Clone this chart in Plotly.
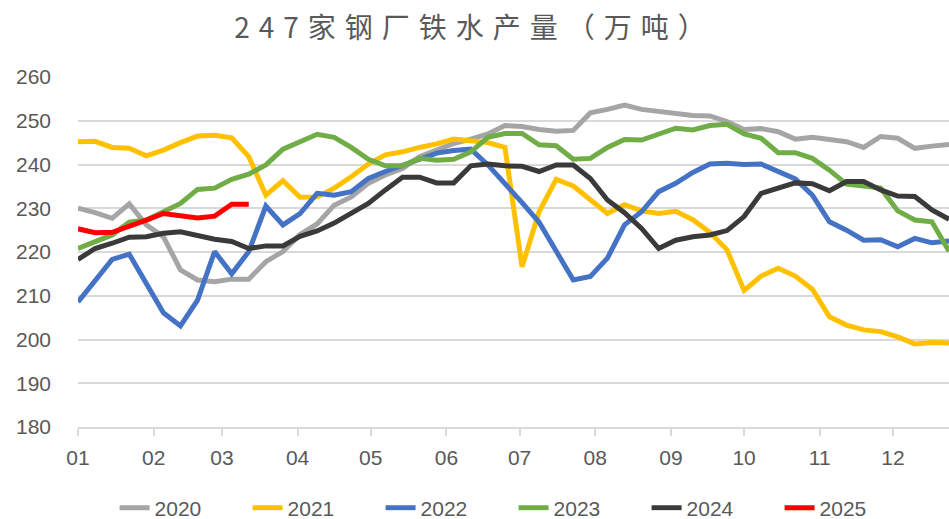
import pandas as pd
import plotly.graph_objects as go

# Weekly hot-metal output of 247 steel mills (10k tonnes), one row per year
years = ["2020", "2021", "2022", "2023", "2024", "2025"]
colors = ["#A5A5A5", "#FFC000", "#4472C4", "#70AD47", "#3A3A3A", "#FF0000"]

v2020 = [230.0, 229.0, 227.7, 231.0, 226.2, 223.5, 215.9, 213.6, 213.2, 213.8,
         213.8, 217.8, 220.1, 224.0, 226.4, 230.7, 232.6, 235.7, 237.6, 239.1,
         241.8, 243.3, 244.8, 245.8, 247.0, 248.9, 248.7, 248.0, 247.6, 247.8,
         251.8, 252.6, 253.6, 252.6, 252.1, 251.7, 251.2, 251.1, 249.8, 248.0,
         248.2, 247.5, 245.8, 246.2, 245.8, 245.2, 243.9, 246.4, 246.0, 243.7,
         244.2, 244.6]
v2021 = [245.2, 245.3, 243.9, 243.7, 242.0, 243.3, 245.0, 246.5, 246.7, 246.1,
         241.8, 233.0, 236.3, 232.5, 232.6, 234.6, 237.2, 240.1, 242.2, 242.9,
         243.9, 244.7, 245.8, 245.4, 245.0, 243.9, 216.6, 229.2, 236.6, 235.1,
         231.9, 228.8, 230.8, 229.4, 228.8, 229.3, 227.4, 224.5, 220.5, 211.2,
         214.5, 216.3, 214.5, 211.5, 205.2, 203.3, 202.2, 201.8, 200.6, 199.0,
         199.3, 199.2]
v2022 = [208.6, 213.6, 218.3, 219.5, 212.8, 206.1, 203.1, 209.0, 220.1, 215.0,
         220.1, 230.5, 226.2, 228.8, 233.4, 233.0, 233.8, 236.8, 238.4, 239.7,
         241.0, 242.6, 243.2, 243.5, 239.9, 235.7, 231.3, 226.8, 220.3, 213.6,
         214.4, 218.6, 226.2, 229.2, 233.8, 235.7, 238.2, 240.1, 240.3, 240.0,
         240.1, 238.4, 236.7, 233.0, 226.9, 225.0, 222.7, 222.8, 221.2, 223.1,
         222.1, 222.5]
v2023 = [220.8, 222.4, 223.9, 226.8, 227.3, 229.2, 231.1, 234.3, 234.6, 236.6,
         237.8, 239.9, 243.5, 245.2, 246.9, 246.2, 243.9, 241.2, 239.7, 239.7,
         241.4, 241.0, 241.2, 242.9, 246.2, 247.1, 247.1, 244.5, 244.3, 241.2,
         241.4, 243.9, 245.7, 245.6, 247.0, 248.3, 247.9, 248.9, 249.2, 247.0,
         246.0, 242.7, 242.7, 241.4, 238.7, 235.5, 235.1, 234.6, 229.4, 227.3,
         226.9, 220.2]
v2024 = [218.3, 220.8, 222.0, 223.4, 223.5, 224.3, 224.6, 223.7, 222.9, 222.4,
         220.8, 221.4, 221.4, 223.6, 224.8, 226.6, 229.0, 231.1, 234.2, 237.1,
         237.1, 235.8, 235.8, 239.7, 240.1, 239.7, 239.6, 238.4, 239.9, 239.9,
         236.8, 231.9, 229.0, 225.4, 220.8, 222.7, 223.5, 223.9, 224.9, 228.1,
         233.4, 234.6, 235.8, 235.6, 234.0, 236.1, 236.1, 234.2, 232.8, 232.7,
         229.6, 227.5]
v2025 = [225.3, 224.4, 224.5, 225.8, 227.3, 228.8, 228.4, 227.8, 228.2, 230.9,
         230.9]

series = [v2020, v2021, v2022, v2023, v2024, v2025]

month_labels = ["01", "02", "03", "04", "05", "06",
                "07", "08", "09", "10", "11", "12"]

# All years are drawn on one shared Jan-Dec calendar, one point per week
base_year = 2001
month_starts = pd.date_range(f"{base_year}-01-01", periods=12, freq="MS")

fig = go.Figure()
for name, vals, col in zip(years, series, colors):
    weeks = pd.date_range(f"{base_year}-01-01", periods=len(vals), freq="7D")
    fig.add_trace(go.Scatter(
        x=weeks, y=vals, name=name, mode="lines",
        line=dict(color=col, width=5),
    ))

text_color = "#595959"
grid_color = "#D9D9D9"
tick_font = dict(family="Liberation Sans, Arial, sans-serif", size=21, color=text_color)

fig.update_layout(
    width=949, height=519,
    margin=dict(l=78, r=0, t=77, b=92, autoexpand=False),
    paper_bgcolor="white", plot_bgcolor="white",
    title=dict(
        text='<span style="letter-spacing:9px">247家钢厂铁水产量（万吨）</span>',
        font=dict(family="Noto Sans CJK SC", size=28, color=text_color),
        x=0.5, xanchor="center", xref="container",
        y=1 - 28 / 519, yanchor="middle", yref="container",
    ),
    xaxis=dict(
        range=[f"{base_year}-01-01", f"{base_year}-12-24"],
        tickvals=month_starts, ticktext=month_labels,
        showgrid=False, showline=True, linecolor=grid_color, linewidth=1.5,
        ticks="outside", ticklen=7, tickwidth=1.5, tickcolor=grid_color,
        tickfont=tick_font, ticklabelstandoff=4,
        zeroline=False,
    ),
    yaxis=dict(
        range=[180, 260], dtick=10, tick0=180,
        showgrid=True, gridcolor=grid_color, gridwidth=1.5,
        showline=False, zeroline=False, ticks="",
        tickfont=tick_font, ticklabelstandoff=26,
    ),
    legend=dict(
        orientation="h", x=0.042, xanchor="left",
        y=1 - 508 / 519, yanchor="middle", yref="container",
        font=tick_font, entrywidth=88, entrywidthmode="pixels",
        bgcolor="rgba(0,0,0,0)",
    ),
    showlegend=True,
)

fig.write_html("out.html")
